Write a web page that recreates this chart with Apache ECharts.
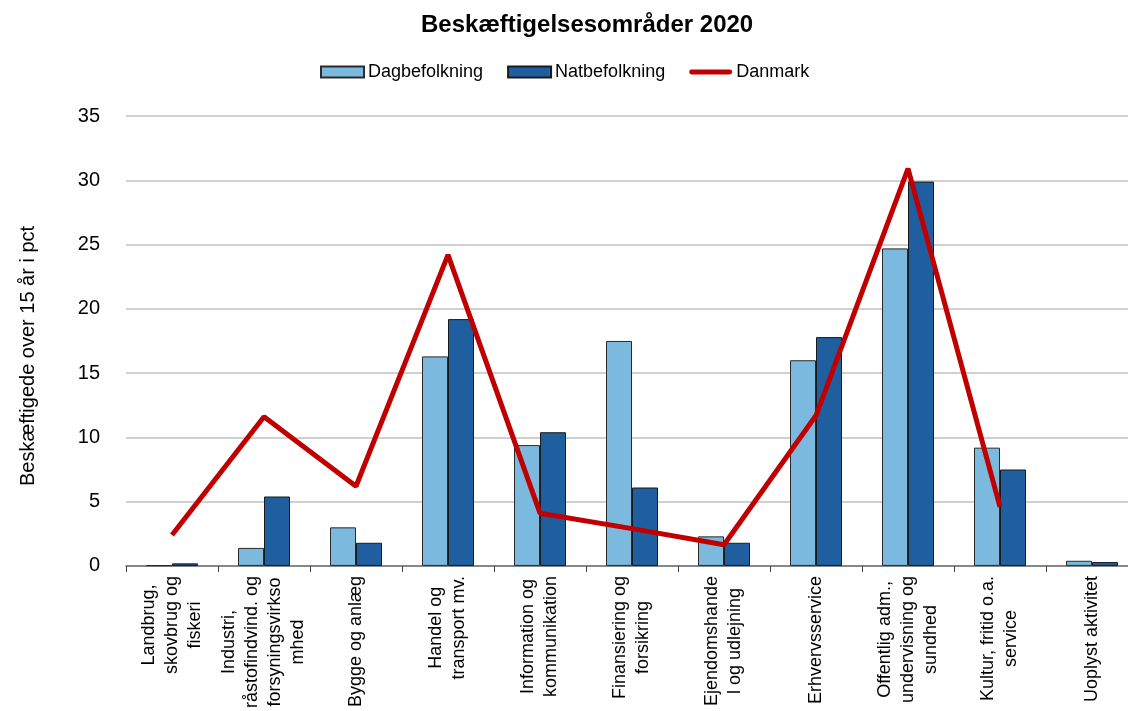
<!DOCTYPE html>
<html><head><meta charset="utf-8">
<script src="https://cdn.jsdelivr.net/npm/echarts@6/dist/echarts.min.js"></script>
<style>html,body{margin:0;padding:0;background:#fff;overflow:hidden;width:1128px;height:711px}#c{width:1138px;height:711px}</style>
</head><body><div id="c"></div>
<script>
const categories = [
  "Landbrug,\nskovbrug og\nfiskeri",
  "Industri,\nråstofindvind. og\nforsyningsvirkso\nmhed",
  "Bygge og anlæg",
  "Handel og\ntransport mv.",
  "Information og\nkommunikation",
  "Finansiering og\nforsikring",
  "Ejendomshande\nl og udlejning",
  "Erhvervsservice",
  "Offentlig adm.,\nundervisning og\nsundhed",
  "Kultur, fritid o.a.\nservice",
  "Uoplyst aktivitet"
];
const dagbefolkning = [0.05, 1.4, 3.0, 16.3, 9.4, 17.5, 2.3, 16.0, 24.7, 9.2, 0.4];
const natbefolkning = [0.2, 5.4, 1.8, 19.2, 10.4, 6.1, 1.8, 17.8, 29.9, 7.5, 0.3];
const danmark = [2.4, 11.6, 6.2, 24.2, 4.1, 2.9, 1.65, 11.7, 30.9, 4.6, null];
const seriesNames = ["Dagbefolkning", "Natbefolkning", "Danmark"];
const titleText = "Beskæftigelsesområder 2020";
const yAxisName = "Beskæftigede over 15 år i pct";

const FONT = "'Liberation Sans', Arial, sans-serif";
const chart = echarts.init(document.getElementById('c'), null, {renderer: 'canvas'});
chart.setOption({
  backgroundColor: '#fff',
  animation: false,
  title: {
    text: titleText, left: 416, top: 8,
    textStyle: {fontFamily: FONT, fontSize: 24, fontWeight: 'bold', color: '#000'}
  },
  legend: {
    top: 58, left: 315, itemWidth: 43, itemHeight: 11, itemGap: 24,
    textStyle: {fontFamily: FONT, fontSize: 18, color: '#000', padding: [0, 0, 0, -1]},
    data: [
      {name: seriesNames[0], icon: 'rect'},
      {name: seriesNames[1], icon: 'rect'},
      {name: seriesNames[2], icon: 'path://M2.5,0 L42.5,0 A2.5,2.5 0 0 1 42.5,5 L2.5,5 A2.5,2.5 0 0 1 2.5,0 Z'}
    ]
  },
  grid: {left: 126, top: 116, bottom: 144, right: 0, containLabel: false},
  xAxis: {
    type: 'category', data: categories,
    axisLine: {lineStyle: {color: '#707070', width: 1.5}},
    axisTick: {show: true, length: 6, lineStyle: {color: '#404040', width: 1}},
    axisLabel: {
      interval: 0, rotate: 90, margin: 10, color: '#000',
      fontFamily: FONT, fontSize: 18, lineHeight: 23,
      formatter: function (v) { return v.split('\n').map(s => '{c|' + s + '}').join('\n'); },
      rich: {c: {align: 'center', fontFamily: FONT, fontSize: 18, lineHeight: 23, color: '#000'}}
    }
  },
  yAxis: {
    type: 'value', min: 0, max: 35, interval: 5,
    name: yAxisName, nameLocation: 'middle', nameGap: 88, nameRotate: 90,
    nameTextStyle: {fontFamily: FONT, fontSize: 20, color: '#000', padding: [0, 30, 0, 0]},
    axisLine: {show: false}, axisTick: {show: false},
    axisLabel: {fontFamily: FONT, fontSize: 20, color: '#000', margin: 26},
    splitLine: {lineStyle: {color: '#c0c0c0', width: 1.5}}
  },
  series: [
    {name: seriesNames[0], type: 'bar', data: dagbefolkning, barWidth: 26, barGap: '0%',
     itemStyle: {color: '#7cb9df', borderColor: '#2a2a2a', borderWidth: 1}},
    {name: seriesNames[1], type: 'bar', data: natbefolkning, barWidth: 26, barGap: '0%',
     itemStyle: {color: '#1f5f9f', borderColor: '#1a1a1a', borderWidth: 1}},
    {name: seriesNames[2], type: 'line', data: danmark, symbol: 'none', showSymbol: false,
     connectNulls: false, lineStyle: {color: '#c00000', width: 5}, itemStyle: {color: '#c00000'}}
  ]
});
</script></body></html>
